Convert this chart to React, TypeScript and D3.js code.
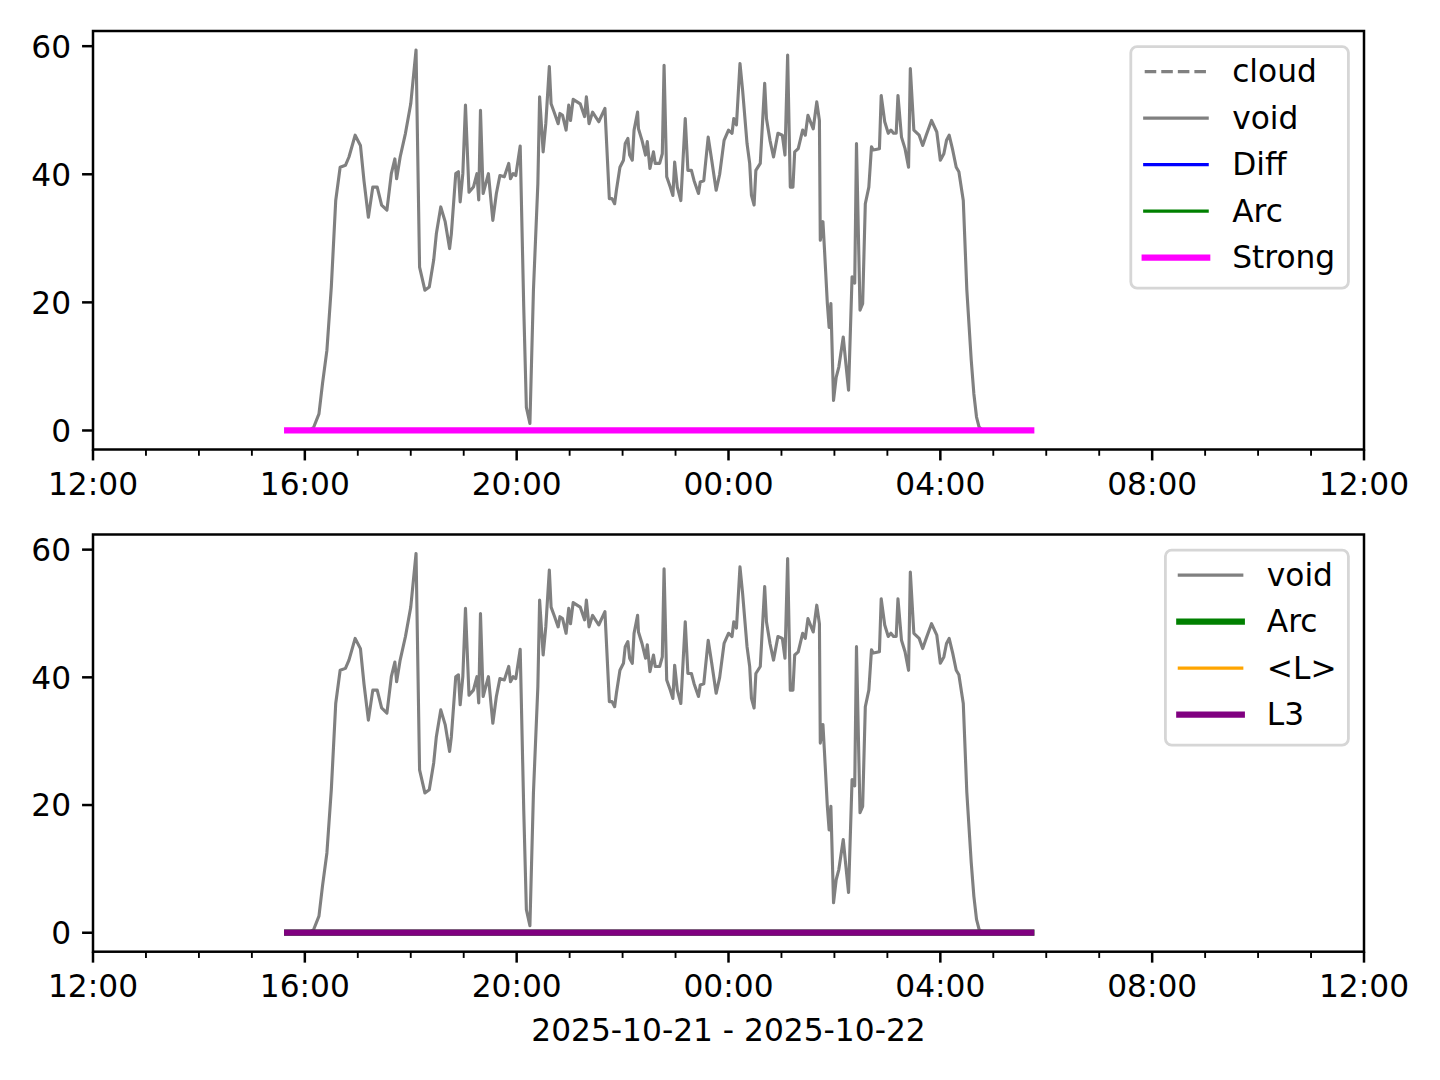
import React from "react";
import * as d3 from "d3";

// ---------- data ----------
const voidTimes = [
  "16:05","16:10","16:16","16:20","16:25","16:30","16:35","16:40","16:46","16:50","16:57",
  "17:03","17:07","17:12","17:17","17:22","17:27","17:33","17:38","17:42","17:44","17:48","17:54",
  "18:00","18:06","18:10","18:16","18:21","18:26","18:29","18:34","18:39","18:44","18:46","18:51","18:54","18:56","18:59",
  "19:02","19:06","19:11","19:15","19:17","19:19","19:22","19:28","19:33","19:37","19:41","19:46","19:51","19:53","19:56","19:59",
  "20:04","20:08","20:11","20:15","20:19","20:24","20:26","20:30","20:33","20:37","20:39","20:43","20:47","20:49","20:52","20:56","20:59",
  "21:01","21:04","21:12","21:17","21:19","21:22","21:26","21:33","21:40","21:45","21:48","21:51","21:53","21:57",
  "22:01","22:03","22:06","22:08","22:11","22:13","22:17","22:18","22:22","22:26","22:28","22:31","22:35","22:37","22:42","22:45","22:47","22:50","22:54","22:57","22:59",
  "23:02","23:06","23:11","23:14","23:18","23:21","23:26","23:28","23:32","23:37","23:41","23:46","23:50","23:55",
  "00:00","00:04","00:06","00:09","00:13","00:16","00:21","00:24","00:26","00:29","00:31","00:36","00:41","00:43","00:47","00:51","00:56",
  "01:01","01:04","01:07","01:10","01:13","01:15","01:19","01:24","01:27","01:30","01:36","01:40","01:43","01:44","01:47","01:49","01:52","01:54","01:56","01:59",
  "02:02","02:05","02:10","02:13","02:16","02:20","02:23","02:25","02:29","02:32","02:35","02:39","02:42","02:44","02:51","02:53","02:57",
  "03:01","03:04","03:07","03:10","03:12","03:16","03:20","03:24","03:26","03:30","03:36","03:40","03:44","03:50","03:56",
  "04:00","04:04","04:07","04:10","04:14","04:18","04:21","04:26","04:30","04:35","04:38","04:41","04:44","04:48",
];
const voidValues = [
  0,0.5,2.6,7.3,12.5,22.4,35.9,41.1,41.4,42.7,46.1,
  44.5,39,33.3,38,38,35.2,34.4,40.1,42.4,39.3,42.7,46.4,
  51,59.4,25.5,21.9,22.4,26.6,30.7,34.9,32.6,28.4,30.7,40.1,40.4,35.7,40.1,
  50.8,37.2,38,40.1,36,50,37,40.1,32.8,37,39.8,39.6,41.7,39.3,40.1,39.8,
  44.4,19.3,3.6,1.1,21.9,38.5,52.1,43.5,47.9,56.8,51,49.5,47.9,49.5,49.2,46.9,50.8,
  48.4,51.7,51,49,52.1,47.9,49.7,48.2,50.3,36.2,36.2,35.4,37.5,41.1,
  42.2,44.8,45.6,43,42.2,46.9,49.7,47.1,45.3,43,45.1,40.9,43.5,41.7,41.7,43.2,57,39.6,38,36.7,41.9,
  38,35.9,48.7,40.6,40.6,39,37,38.8,39,45.8,42.2,37.5,40,45.3,
  46.9,46.4,48.7,47.7,57.3,53.1,44.8,41.7,36.7,35.2,40.6,41.7,54.2,48.7,45.3,42.7,46.4,
  46.1,43,58.6,38,38,43.5,44,46.9,46.1,49.2,47.1,51.3,48.4,29.7,32.6,27.6,19.8,16.1,19.8,4.7,
  8.3,9.9,14.6,10.4,6.3,24,23,44.8,18.8,19.8,35.4,38,44.3,43.8,44,52.3,48.2,
  46.4,46.9,46.4,46.4,52.3,45.8,44,41.1,56.5,46.9,46.1,44.5,46.1,48.4,46.6,
  42.2,43.2,45.3,46.1,43.8,41.1,40.4,35.9,22,11,5.7,2.1,0.5,0,
];
const cloudTimes: string[] = [];
const cloudValues: number[] = [];
const flatTimes = ["15:40", "05:43"];
const diffValues = [0, 0];
const arcValues = [0, 0];
const strongValues = [0, 0];
const meanLValues = [0, 0];
const l3Values = [0, 0];

const yTicks = [0, 20, 40, 60];
const xLabelText = "2025-10-21 - 2025-10-22";
const xStart = "2025-10-21T12:00";
const xEnd = "2025-10-22T12:00";

// ---------- helpers ----------
function parseT(s: string): Date {
  const [h, m] = s.split(":").map(Number);
  return new Date(2025, 9, h >= 12 ? 21 : 22, h, m);
}

const FONT = "DejaVu Sans";
const FS = 31.25;
const PT = 3.125;

const W = 1440;
const H = 1080;
const LEFT = 93;
const RIGHT = 1364;

const x = d3
  .scaleTime()
  .domain([new Date(xStart), new Date(xEnd)])
  .range([LEFT, RIGHT]);

const allVals = voidValues.concat(diffValues, strongValues);
const [vMin, vMax] = d3.extent(allVals) as [number, number];
const pad = (vMax - vMin) * 0.05;
const yDomain: [number, number] = [vMin - pad, vMax + pad];

type Series = {
  name: string;
  times: string[];
  values: number[];
  color: string;
  width: number;
  dash?: string;
};

function Panel(props: {
  top: number;
  bottom: number;
  series: Series[];
  legend: Series[];
  legendWidth: number;
  showXLabel?: boolean;
  id: string;
}) {
  const { top, bottom, series, legend, legendWidth, id } = props;
  const y = d3.scaleLinear().domain(yDomain).range([bottom, top]);
  const majors = x.ticks(d3.timeHour.every(4)!);
  const minors = x
    .ticks(d3.timeHour.every(1)!)
    .filter((t) => t.getHours() % 4 !== 0);
  const fmt = d3.timeFormat("%H:%M");

  const lineGen = (s: Series) =>
    d3
      .line<number>()
      .x((_, i) => x(parseT(s.times[i])))
      .y((v) => y(v))(s.values) || "";

  const legRight = RIGHT - 15.6;
  const legTop = top + 15.6;
  const rowH = 46.5;
  const legH = legend.length * rowH + 9;
  const legLeft = legRight - legendWidth;
  const handleX0 = legLeft + 13.9;
  const handleX1 = handleX0 + 2 * FS;
  const textX = handleX1 + 0.8 * FS;

  return (
    <g>
      <defs>
        <clipPath id={id}>
          <rect x={LEFT} y={top} width={RIGHT - LEFT} height={bottom - top} />
        </clipPath>
      </defs>
      <g clipPath={`url(#${id})`}>
        {series.map((s) =>
          s.values.length ? (
            <path
              key={s.name}
              d={lineGen(s)}
              fill="none"
              stroke={s.color}
              strokeWidth={s.width * PT}
              strokeDasharray={s.dash}
              strokeLinecap="square"
              strokeLinejoin="round"
            />
          ) : null
        )}
      </g>
      {/* spines */}
      <rect
        x={LEFT}
        y={top}
        width={RIGHT - LEFT}
        height={bottom - top}
        fill="none"
        stroke="#000"
        strokeWidth={0.8 * PT}
      />
      {/* y ticks */}
      {yTicks.map((t) => (
        <g key={t}>
          <line
            x1={LEFT}
            x2={LEFT - 3.5 * PT}
            y1={y(t)}
            y2={y(t)}
            stroke="#000"
            strokeWidth={0.8 * PT}
          />
          <text
            x={LEFT - 7 * PT}
            y={y(t) + 11.4}
            textAnchor="end"
            fontFamily={FONT}
            fontSize={FS}
          >
            {t}
          </text>
        </g>
      ))}
      {/* x ticks */}
      {minors.map((t) => (
        <line
          key={"m" + t.getTime()}
          x1={x(t)}
          x2={x(t)}
          y1={bottom}
          y2={bottom + 2 * PT}
          stroke="#000"
          strokeWidth={0.6 * PT}
        />
      ))}
      {majors.map((t) => (
        <g key={"M" + t.getTime()}>
          <line
            x1={x(t)}
            x2={x(t)}
            y1={bottom}
            y2={bottom + 3.5 * PT}
            stroke="#000"
            strokeWidth={0.8 * PT}
          />
          <text
            x={x(t)}
            y={bottom + 45.5}
            textAnchor="middle"
            fontFamily={FONT}
            fontSize={FS}
          >
            {fmt(t)}
          </text>
        </g>
      ))}
      {props.showXLabel && (
        <text
          x={(LEFT + RIGHT) / 2}
          y={bottom + 89.5}
          textAnchor="middle"
          fontFamily={FONT}
          fontSize={FS}
        >
          {xLabelText}
        </text>
      )}
      {/* legend */}
      <rect
        x={legLeft}
        y={legTop}
        width={legendWidth}
        height={legH}
        rx={6.25}
        ry={6.25}
        fill="#fff"
        fillOpacity={0.8}
        stroke="#d6d6d6"
        strokeWidth={PT * 0.9}
      />
      {legend.map((s, i) => {
        const ry = legTop + 25 + i * rowH;
        return (
          <g key={s.name}>
            <line
              x1={handleX0}
              x2={handleX1}
              y1={ry}
              y2={ry}
              stroke={s.color}
              strokeWidth={s.width * PT}
              strokeDasharray={s.dash}
              strokeLinecap={s.dash ? "butt" : "square"}
            />
            <text x={textX} y={ry + 10.8} fontFamily={FONT} fontSize={FS}>
              {s.name}
            </text>
          </g>
        );
      })}
    </g>
  );
}

export default function App() {
  const dash = `${3.7 * PT},${1.6 * PT}`;
  const cloud: Series = { name: "cloud", times: cloudTimes, values: cloudValues, color: "#808080", width: 1, dash };
  const voidS: Series = { name: "void", times: voidTimes, values: voidValues, color: "#808080", width: 1 };
  const diff: Series = { name: "Diff", times: flatTimes, values: diffValues, color: "#0000ff", width: 1 };
  const arc1: Series = { name: "Arc", times: flatTimes, values: arcValues, color: "#008000", width: 1 };
  const strong: Series = { name: "Strong", times: flatTimes, values: strongValues, color: "#ff00ff", width: 2 };
  const arc2: Series = { name: "Arc", times: flatTimes, values: arcValues, color: "#008000", width: 2 };
  const meanL: Series = { name: "<L>", times: flatTimes, values: meanLValues, color: "#ffa500", width: 1 };
  const l3: Series = { name: "L3", times: flatTimes, values: l3Values, color: "#800080", width: 2 };

  const topSeries = [cloud, voidS, diff, arc1, strong];
  const botSeries = [voidS, arc2, meanL, l3];

  return (
    <svg
      width={W}
      height={H}
      viewBox={`0 0 ${W} ${H}`}
      style={{ position: "absolute", left: 0, top: 0, background: "#fff" }}
    >
      <rect x={0} y={0} width={W} height={H} fill="#fff" />
      <Panel id="clipTop" top={31} bottom={449.5} series={topSeries} legend={topSeries} legendWidth={217.6} />
      <Panel id="clipBot" top={534.5} bottom={951.7} series={botSeries} legend={botSeries} legendWidth={183} showXLabel />
    </svg>
  );
}
